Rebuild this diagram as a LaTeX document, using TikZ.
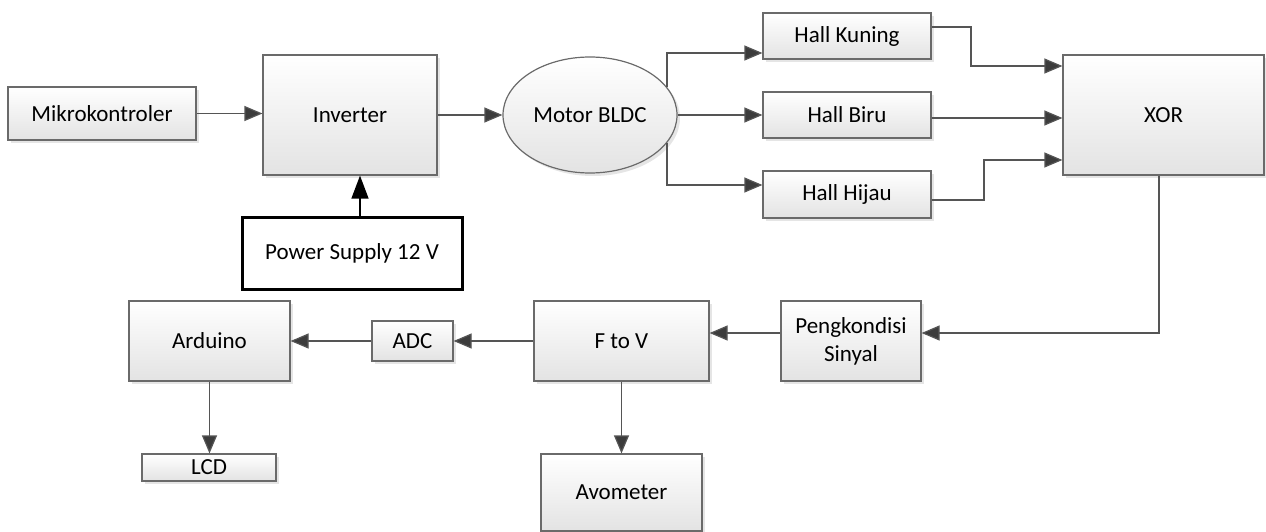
\documentclass[tikz,border=0pt]{standalone}
\usepackage{fontspec}
\setmainfont{Carlito}
\usetikzlibrary{arrows.meta,shapes.geometric,shadows}
\definecolor{edge}{HTML}{6A6A6A}
\definecolor{wire}{HTML}{555555}
\definecolor{tip}{HTML}{3C3C3C}
\tikzset{
  blk/.style={draw=edge, line width=1.2pt, top color=white, bottom color=black!11,
    drop shadow={shadow xshift=3pt, shadow yshift=-3pt, fill=black!10, opacity=1},
    inner sep=0pt, align=center, font=\fontsize{23}{28}\selectfont},
  oval/.style={blk, ellipse},
  wirearrow/.style={draw=wire, line width=1.2pt, -{Triangle[length=18pt,width=15pt,fill=tip]}},
  bigarrow/.style={draw=black, line width=1.4pt, -{Triangle[length=23pt,width=17pt,fill=black]}},
  plain/.style={draw=wire, line width=1.2pt}
}
\begin{document}
\begin{tikzpicture}[x=1pt,y=-1pt]
\useasboundingbox (0,0) rectangle (1266,532);
\node[blk, minimum width=188pt, minimum height=53pt] (mikro) at (102,113.5) {Mikrokontroler};
\node[blk, minimum width=174pt, minimum height=120pt] (inv) at (350,115) {Inverter};
\node[draw=black, line width=3pt, fill=white, minimum width=220pt, minimum height=72pt, inner sep=0pt, font=\fontsize{23}{28}\selectfont] (ps) at (352,253) {Power Supply 12 V};
\node[oval, minimum width=174pt, minimum height=116pt] (motor) at (590,115) {Motor BLDC};
\node[blk, minimum width=168pt, minimum height=46pt] (hk) at (847,36) {Hall Kuning};
\node[blk, minimum width=168pt, minimum height=46pt] (hb) at (847,115) {Hall Biru};
\node[blk, minimum width=168pt, minimum height=47pt] (hh) at (847,194.5) {Hall Hijau};
\node[blk, minimum width=201pt, minimum height=120pt] (xor) at (1163.5,115) {XOR};
\node[blk, minimum width=140pt, minimum height=80pt] (peng) at (851,341) {Pengkondisi\\Sinyal};
\node[blk, minimum width=175pt, minimum height=80pt] (ftv) at (621.5,341) {F to V};
\node[blk, minimum width=161pt, minimum height=77pt] (avo) at (621.5,492.5) {Avometer};
\node[blk, minimum width=81pt, minimum height=40pt] (adc) at (412.5,341) {ADC};
\node[blk, minimum width=161pt, minimum height=80pt] (ard) at (209.5,341) {Arduino};
\node[blk, minimum width=134pt, minimum height=27pt] (lcd) at (209,467.5) {LCD};

\coordinate (kturn) at (971,0);
\coordinate (hturn) at (984,0);
\coordinate (xdown) at (1159,0);

\draw[wirearrow] (mikro.east) -- (mikro.east -| inv.west);
\draw[wirearrow] (inv.east) -- (inv.east -| motor.west);
\draw[bigarrow] ([xshift=8pt]ps.north) -- ([xshift=8pt]ps.north |- inv.south);
\draw[wirearrow] (motor.20.4) |- ([yshift=-17pt]hk.west);
\draw[wirearrow] (motor.east) -- (hb.west);
\draw[wirearrow] (motor.-20.4) |- ([yshift=9.5pt]hh.west);
\draw[wirearrow] ([yshift=9pt]hk.east) -- ([yshift=9pt]hk.east -| kturn) -- ([yshift=49pt]xor.west -| kturn) -- ([yshift=49pt]xor.west);
\draw[wirearrow] ([yshift=-3pt]hb.east) -- ([yshift=-3pt]hb.east -| xor.west);
\draw[wirearrow] ([yshift=-5.5pt]hh.east) -- ([yshift=-5.5pt]hh.east -| hturn) -- ([yshift=-45pt]xor.west -| hturn) -- ([yshift=-45pt]xor.west);
\draw[wirearrow] (xor.south -| xdown) -- ([yshift=8pt]peng.east -| xdown) -- ([yshift=8pt]peng.east);
\draw[wirearrow] ([yshift=8pt]peng.west) -- ([yshift=8pt]peng.west -| ftv.east);
\draw[wirearrow] (ftv.west |- adc.east) -- (adc.east);
\draw[wirearrow] (adc.west) -- (ard.east);
\draw[wirearrow] (ftv.south) -- (ftv.south |- avo.north);
\draw[wirearrow] (ard.south) -- (ard.south |- lcd.north);
\end{tikzpicture}
\end{document}
